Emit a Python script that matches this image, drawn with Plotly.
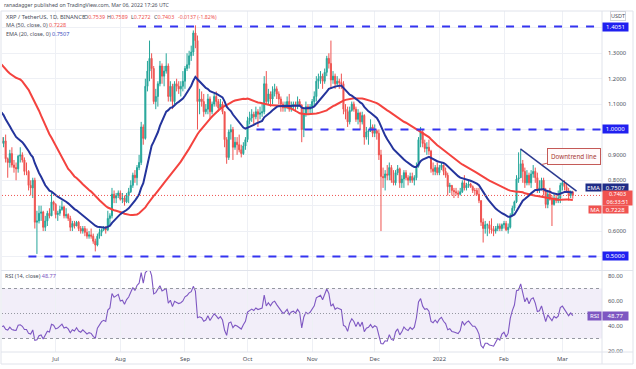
import pandas as pd
import plotly.graph_objects as go
from plotly.subplots import make_subplots

# ---------------- data (XRP/USDT daily) ----------------
# closes before the visible window (used only to seed MA50 / EMA20 / RSI14)
warmup_close = [1.62, 1.49, 1.35, 1.27, 1.31, 1.20, 1.12, 1.08, 1.06, 1.06, 1.26, 1.40, 1.37, 1.34, 1.59,
                1.58, 1.52, 1.55, 1.39, 1.66, 1.56, 1.59, 1.55, 1.52, 1.43, 1.48, 1.32, 1.43, 1.58, 1.38,
                1.47, 1.38, 1.48, 1.06, 1.21, 1.07, 0.96, 0.94, 1.05, 1.03, 1.04, 0.98, 0.90, 0.88, 0.93,
                1.03, 0.98, 1.03, 1.05, 0.97]
first_day = "2021-06-05"

close_jun = [0.945, 0.955, 0.885, 0.870, 0.905, 0.860, 0.850, 0.845, 0.895, 0.900, 0.880, 0.835, 0.835,
             0.780, 0.770, 0.800, 0.635, 0.640, 0.670, 0.675, 0.615, 0.640, 0.670, 0.660, 0.715, 0.705]
high_jun = [0.99, 0.97, 0.98, 0.89, 0.92, 0.93, 0.88, 0.87, 0.90, 0.93, 0.91, 0.89, 0.87,
            0.84, 0.80, 0.81, 0.81, 0.68, 0.70, 0.70, 0.68, 0.66, 0.68, 0.69, 0.75, 0.72]
low_jun = [0.92, 0.93, 0.87, 0.81, 0.85, 0.85, 0.83, 0.80, 0.83, 0.87, 0.87, 0.82, 0.82,
           0.76, 0.74, 0.73, 0.61, 0.51, 0.63, 0.64, 0.60, 0.60, 0.62, 0.65, 0.66, 0.68]

close_jul = [0.665, 0.670, 0.685, 0.695, 0.660, 0.665, 0.650, 0.615, 0.630, 0.620, 0.635, 0.610, 0.600,
             0.610, 0.595, 0.580, 0.585, 0.580, 0.560, 0.545, 0.580, 0.595, 0.605, 0.610, 0.605, 0.650,
             0.660, 0.745, 0.730, 0.740, 0.750]
high_jul = [0.71, 0.68, 0.70, 0.72, 0.70, 0.69, 0.67, 0.66, 0.64, 0.64, 0.64, 0.64, 0.62,
            0.62, 0.62, 0.61, 0.60, 0.61, 0.59, 0.57, 0.59, 0.61, 0.61, 0.62, 0.62, 0.68,
            0.67, 0.77, 0.76, 0.75, 0.76]
low_jul = [0.65, 0.64, 0.66, 0.68, 0.65, 0.65, 0.64, 0.60, 0.60, 0.61, 0.62, 0.60, 0.59,
           0.59, 0.58, 0.57, 0.57, 0.57, 0.55, 0.52, 0.54, 0.57, 0.58, 0.60, 0.59, 0.60,
           0.62, 0.65, 0.71, 0.71, 0.73]

close_aug = [0.725, 0.730, 0.715, 0.740, 0.755, 0.780, 0.820, 0.810, 0.850, 0.870, 1.010, 0.965, 1.170,
             1.230, 1.280, 1.240, 1.110, 1.130, 1.180, 1.250, 1.210, 1.230, 1.250, 1.130, 1.170, 1.110,
             1.180, 1.170, 1.160, 1.170, 1.190]
high_aug = [0.76, 0.75, 0.74, 0.75, 0.77, 0.80, 0.83, 0.84, 0.86, 0.90, 1.03, 1.02, 1.20,
            1.27, 1.35, 1.30, 1.25, 1.16, 1.19, 1.27, 1.26, 1.25, 1.30, 1.26, 1.19, 1.18,
            1.19, 1.20, 1.19, 1.19, 1.23]
low_aug = [0.72, 0.71, 0.70, 0.71, 0.71, 0.75, 0.77, 0.79, 0.78, 0.84, 0.86, 0.94, 0.96,
           1.15, 1.19, 1.20, 1.10, 1.08, 1.09, 1.17, 1.18, 1.17, 1.22, 1.11, 1.11, 1.08,
           1.10, 1.15, 1.14, 1.13, 1.15]

close_sep = [1.240, 1.255, 1.290, 1.305, 1.380, 1.350, 1.110, 1.120, 1.110, 1.070, 1.080, 1.120, 1.070,
             1.100, 1.130, 1.110, 1.085, 1.100, 1.070, 0.960, 0.890, 0.990, 1.000, 0.930, 0.950, 0.940,
             0.920, 0.905, 0.935, 0.960]
high_sep = [1.25, 1.30, 1.31, 1.33, 1.39, 1.41, 1.37, 1.16, 1.15, 1.14, 1.10, 1.14, 1.13,
            1.11, 1.14, 1.15, 1.12, 1.12, 1.11, 1.07, 0.97, 1.00, 1.02, 1.01, 0.97, 0.97,
            0.98, 0.94, 0.95, 0.97]
low_sep = [1.16, 1.23, 1.24, 1.27, 1.29, 1.32, 1.00, 1.06, 1.09, 1.05, 1.06, 1.06, 1.04,
           1.06, 1.09, 1.09, 1.07, 1.08, 1.06, 0.93, 0.865, 0.88, 0.96, 0.88, 0.92, 0.90,
           0.91, 0.89, 0.90, 0.92]

close_oct = [1.035, 1.045, 1.060, 1.050, 1.070, 1.060, 1.065, 1.070, 1.180, 1.110, 1.140, 1.120, 1.150,
             1.160, 1.140, 1.120, 1.100, 1.085, 1.095, 1.110, 1.080, 1.095, 1.100, 1.090, 1.110, 1.095,
             1.000, 1.060, 1.090, 1.080, 1.090]
high_oct = [1.05, 1.07, 1.08, 1.07, 1.09, 1.08, 1.09, 1.10, 1.21, 1.23, 1.16, 1.15, 1.17,
            1.18, 1.17, 1.15, 1.13, 1.11, 1.11, 1.13, 1.14, 1.11, 1.11, 1.11, 1.13, 1.12,
            1.10, 1.08, 1.11, 1.10, 1.10]
low_oct = [0.95, 1.02, 1.03, 1.02, 1.04, 1.01, 1.04, 1.05, 1.06, 1.10, 1.10, 1.09, 1.10,
           1.13, 1.12, 1.10, 1.07, 1.07, 1.07, 1.08, 1.07, 1.07, 1.08, 1.07, 1.08, 1.09,
           0.95, 0.97, 1.05, 1.06, 1.06]

close_nov = [1.110, 1.130, 1.190, 1.200, 1.210, 1.190, 1.225, 1.280, 1.260, 1.195, 1.210, 1.180, 1.190,
             1.185, 1.180, 1.080, 1.070, 1.030, 1.075, 1.100, 1.080, 1.040, 1.065, 1.030, 1.055, 0.970,
             0.990, 0.995, 1.010, 0.985]
high_nov = [1.12, 1.15, 1.21, 1.22, 1.23, 1.22, 1.24, 1.29, 1.30, 1.35, 1.23, 1.22, 1.21,
            1.20, 1.22, 1.19, 1.10, 1.09, 1.09, 1.11, 1.11, 1.09, 1.08, 1.07, 1.07, 1.06,
            1.01, 1.00, 1.04, 1.02]
low_nov = [1.06, 1.09, 1.11, 1.16, 1.18, 1.16, 1.18, 1.21, 1.24, 1.16, 1.18, 1.16, 1.17,
           1.16, 1.16, 1.06, 1.04, 1.01, 1.02, 1.07, 1.07, 1.03, 1.02, 1.00, 1.02, 0.94,
           0.96, 0.94, 0.99, 0.97]

close_dec = [0.995, 0.985, 0.900, 0.815, 0.810, 0.825, 0.820, 0.850, 0.800, 0.790, 0.830, 0.845, 0.790,
             0.805, 0.830, 0.810, 0.800, 0.815, 0.800, 0.810, 0.855, 0.960, 0.990, 0.945, 0.925, 0.930,
             0.915, 0.845, 0.835, 0.850, 0.830]
high_dec = [1.02, 1.00, 1.00, 0.92, 0.85, 0.84, 0.86, 0.87, 0.86, 0.84, 0.84, 0.86, 0.85,
            0.82, 0.84, 0.84, 0.82, 0.83, 0.83, 0.82, 0.87, 0.97, 1.01, 1.00, 0.96, 0.95,
            0.96, 0.92, 0.87, 0.86, 0.87]
low_dec = [0.97, 0.96, 0.88, 0.60, 0.77, 0.76, 0.80, 0.80, 0.79, 0.78, 0.78, 0.82, 0.77,
           0.77, 0.77, 0.80, 0.78, 0.79, 0.79, 0.78, 0.80, 0.85, 0.93, 0.93, 0.91, 0.90,
           0.90, 0.83, 0.82, 0.82, 0.82]

close_jan = [0.850, 0.860, 0.835, 0.820, 0.775, 0.780, 0.760, 0.755, 0.750, 0.745, 0.755, 0.790, 0.770,
             0.780, 0.785, 0.775, 0.760, 0.760, 0.745, 0.720, 0.635, 0.610, 0.625, 0.625, 0.610, 0.605,
             0.600, 0.610, 0.620, 0.610, 0.625]
high_jan = [0.86, 0.87, 0.86, 0.85, 0.83, 0.79, 0.78, 0.77, 0.77, 0.76, 0.77, 0.80, 0.82,
            0.79, 0.80, 0.79, 0.78, 0.77, 0.77, 0.77, 0.72, 0.65, 0.64, 0.63, 0.64, 0.65,
            0.62, 0.62, 0.63, 0.63, 0.63]
low_jan = [0.82, 0.84, 0.82, 0.81, 0.74, 0.75, 0.74, 0.73, 0.74, 0.73, 0.74, 0.75, 0.76,
           0.76, 0.77, 0.77, 0.75, 0.74, 0.74, 0.71, 0.62, 0.555, 0.59, 0.58, 0.59, 0.59,
           0.58, 0.59, 0.60, 0.60, 0.60]

close_feb = [0.630, 0.605, 0.615, 0.660, 0.690, 0.715, 0.805, 0.810, 0.865, 0.835, 0.790, 0.820, 0.790,
             0.825, 0.835, 0.810, 0.765, 0.770, 0.800, 0.755, 0.705, 0.745, 0.725, 0.705, 0.730, 0.720,
             0.730, 0.780]
high_feb = [0.64, 0.64, 0.63, 0.67, 0.70, 0.72, 0.82, 0.91, 0.92, 0.88, 0.85, 0.84, 0.83,
            0.84, 0.86, 0.85, 0.83, 0.80, 0.81, 0.81, 0.77, 0.76, 0.77, 0.74, 0.75, 0.75,
            0.76, 0.79]
low_feb = [0.61, 0.60, 0.59, 0.61, 0.66, 0.68, 0.71, 0.79, 0.81, 0.79, 0.77, 0.78, 0.78,
           0.77, 0.81, 0.79, 0.75, 0.75, 0.76, 0.74, 0.69, 0.69, 0.72, 0.62, 0.70, 0.71,
           0.71, 0.71]

close_mar = [0.790, 0.775, 0.760, 0.740, 0.7539, 0.7403]
high_mar = [0.80, 0.80, 0.79, 0.77, 0.76, 0.7589]
low_mar = [0.76, 0.76, 0.75, 0.72, 0.73, 0.7272]

# horizontal levels drawn on the chart
level_values = [1.4051, 1.0, 0.5]
level_starts = ["2021-08-09 12:00", "2021-10-05 07:00", "2021-06-17 22:00"]
level_labels = ["1.4051", "1.0000", "0.5000"]

# downtrend line and its callout
trend_x = ["2022-02-08 21:00", "2022-03-07 19:00"]
trend_y = [0.924, 0.757]
trend_note = "Downtrend line"

# legend values
ohlc_names = ["O", "H", "L", "C"]
ohlc_values = ["0.7539", "0.7589", "0.7272", "0.7403"]
change_text = "-0.0137 (-1.82%)"

month_ticks = ["2021-07-01", "2021-08-01", "2021-09-01", "2021-10-01", "2021-11-01",
               "2021-12-01", "2022-01-01", "2022-02-01", "2022-03-01"]
month_text = ["Jul", "Aug", "Sep", "Oct", "Nov", "Dec", "2022", "Feb", "Mar"]
price_ticks = [0.5, 0.6, 0.7, 0.8, 0.9, 1.0, 1.1, 1.2, 1.3, 1.4]
price_text = ["", "0.6000", "", "0.8000", "0.9000", "", "1.1000", "1.2000", "1.3000", ""]
rsi_ticks = [20, 40, 60, 80]
rsi_text = ["20.00", "40.00", "60.00", "80.00"]

# ---------------- assemble ----------------
close = (close_jun + close_jul + close_aug + close_sep + close_oct + close_nov + close_dec
         + close_jan + close_feb + close_mar)
high = (high_jun + high_jul + high_aug + high_sep + high_oct + high_nov + high_dec
        + high_jan + high_feb + high_mar)
low = (low_jun + low_jul + low_aug + low_sep + low_oct + low_nov + low_dec
       + low_jan + low_feb + low_mar)
opn = [warmup_close[-1]] + close[:-1]
high = [max(h, o, c) for h, o, c in zip(high, opn, close)]
low = [min(l, o, c) for l, o, c in zip(low, opn, close)]
dates = pd.date_range(first_day, periods=len(close), freq="D")

series = pd.Series(warmup_close + close)
nw = len(warmup_close)
ma50 = series.rolling(50).mean().iloc[nw:].values
ema20 = series.ewm(span=20, adjust=False).mean().iloc[nw:].values
delta = series.diff()
gain = delta.clip(lower=0).ewm(alpha=1 / 14, adjust=False).mean()
loss = (-delta.clip(upper=0)).ewm(alpha=1 / 14, adjust=False).mean()
rsi = (100 - 100 / (1 + gain / loss)).iloc[nw:].values

# ---------------- geometry helpers ----------------
W, H = 636, 369
ML, MR, MT, MB = 2, 34, 11, 17
PW, PH = W - ML - MR, H - MT - MB


def px(xp):
    return (xp - ML) / PW


def py(yp):
    return (H - MB - yp) / PH


X_RANGE = ["2021-06-05 06:00", "2022-03-20 00:00"]
FONT = "Noto Sans"
GRID = "#eef0f5"
BORDER = "#e0e3eb"
UP, DOWN = "#26a69a", "#ef5350"
LEVEL = "#3434f0"
MA_C, EMA_C, RSI_C = "#f4433f", "#24349c", "#7e57c2"
TXT = "#4a4e59"

fig = make_subplots(rows=2, cols=1, shared_xaxes=True, vertical_spacing=0)

fig.add_trace(go.Candlestick(
    x=dates, open=opn, high=high, low=low, close=close,
    increasing=dict(line=dict(color=UP, width=1), fillcolor=UP),
    decreasing=dict(line=dict(color=DOWN, width=1), fillcolor=DOWN),
    whiskerwidth=0, showlegend=False, hoverinfo="skip"), row=1, col=1)
fig.add_trace(go.Scatter(x=dates, y=ma50, mode="lines", line=dict(color=MA_C, width=2),
                         showlegend=False, hoverinfo="skip"), row=1, col=1)
fig.add_trace(go.Scatter(x=dates, y=ema20, mode="lines", line=dict(color=EMA_C, width=2),
                         showlegend=False, hoverinfo="skip"), row=1, col=1)
fig.add_trace(go.Scatter(x=trend_x, y=trend_y, mode="lines", line=dict(color="#2b3a8f", width=1.5),
                         showlegend=False, hoverinfo="skip"), row=1, col=1)
fig.add_trace(go.Scatter(x=dates, y=rsi, mode="lines", line=dict(color=RSI_C, width=1.1),
                         showlegend=False, hoverinfo="skip"), row=2, col=1)

shapes = []
# RSI band and guides
shapes.append(dict(type="rect", xref="x2 domain", yref="y2", x0=0, x1=1, y0=30, y1=70,
                   fillcolor="rgba(126,87,194,0.10)", line=dict(width=0), layer="below"))
for v, d in [(70, "3px,3px"), (30, "3px,3px"), (50, "1px,2px")]:
    shapes.append(dict(type="line", xref="x2 domain", yref="y2", x0=0, x1=1, y0=v, y1=v,
                       line=dict(color="#9598a1", width=1, dash=d)))
# horizontal key levels
for v, s in zip(level_values, level_starts):
    shapes.append(dict(type="line", xref="x", yref="y", x0=s, x1=X_RANGE[1], y0=v, y1=v,
                       line=dict(color=LEVEL, width=2, dash="8px,8px")))
# last price line
shapes.append(dict(type="line", xref="x domain", yref="y", x0=0, x1=1, y0=close[-1], y1=close[-1],
                   line=dict(color=DOWN, width=1, dash="1px,2px")))
# frame / separators
shapes.append(dict(type="rect", xref="paper", yref="paper", x0=px(1), x1=px(633), y0=py(364), y1=py(11),
                   line=dict(color=BORDER, width=1)))
shapes.append(dict(type="line", xref="paper", yref="paper", x0=px(602), x1=px(602), y0=py(364), y1=py(11),
                   line=dict(color=BORDER, width=1)))
shapes.append(dict(type="line", xref="paper", yref="paper", x0=px(1), x1=px(633), y0=py(352), y1=py(352),
                   line=dict(color=BORDER, width=1)))
shapes.append(dict(type="line", xref="paper", yref="paper", x0=px(1), x1=px(633), y0=py(270.5), y1=py(270.5),
                   line=dict(color=BORDER, width=1)))

ann = []


def text(xp, yp, t, size=5.5, color=TXT):
    ann.append(dict(xref="paper", yref="paper", x=px(xp), y=py(yp), text=t, showarrow=False,
                    xanchor="left", yanchor="middle", font=dict(family=FONT, size=size, color=color)))


R = "#ef5350"
text(2, 5, "ranadagger published on TradingView.com, Mar 06, 2022 17:26 UTC", size=5.2)
text(4, 17.5, "XRP / TetherUS, 1D, BINANCE", size=5.8)
for xp, nm, val in zip([82, 105, 128.5, 152], ohlc_names, ohlc_values):
    text(xp, 17.5, '%s<span style="color:%s">%s</span>' % (nm, R, val), size=5.4)
text(176, 17.5, change_text, size=5.2, color=R)
text(4, 25.5, 'MA (50, close, 0) <span style="color:%s">0.7228</span>' % R)
text(4, 33.5, 'EMA (20, close, 0) <span style="color:#3a4fc0">0.7507</span>')
text(3, 276, 'RSI (14, close) <span style="color:%s">48.77</span>' % RSI_C)

white = dict(family=FONT, size=6, color="white")
# key level labels on the price axis
for v, lab in zip(level_values, level_labels):
    ann.append(dict(xref="paper", yref="y", x=1.0, y=v, text=lab, showarrow=False, xanchor="left",
                    yanchor="middle", bgcolor="#2020f0", font=white, width=25, height=8, borderpad=0))


def axis_tag(yp, label, value, color, lw):
    ann.append(dict(xref="paper", yref="paper", x=1.0, y=py(yp), text=label, showarrow=False,
                    xanchor="right", yanchor="middle", bgcolor=color, font=white, width=lw, height=7,
                    borderpad=0))
    ann.append(dict(xref="paper", yref="paper", x=1.0, y=py(yp), text=value, showarrow=False,
                    xanchor="left", yanchor="middle", bgcolor=color, font=white, width=25, height=7,
                    borderpad=0))


# moving-average / price labels (offset so they do not collide, as on the source)
axis_tag(187.6, "EMA", "0.7507", "#1f2c86", 15)
ann.append(dict(xref="paper", yref="paper", x=1.0, y=py(198.4), text="0.7403<br>06:33:51", showarrow=False,
                xanchor="left", yanchor="middle", bgcolor="#f05350",
                font=dict(family=FONT, size=5.5, color="white"), width=29, height=14, borderpad=0))
axis_tag(209.2, "MA", "0.7228", "#f05350", 12)
# RSI value label
ann.append(dict(xref="paper", yref="y2", x=1.0, y=rsi[-1], text="RSI", showarrow=False, xanchor="right",
                yanchor="middle", bgcolor=RSI_C, font=white, width=13, height=8, borderpad=0))
ann.append(dict(xref="paper", yref="y2", x=1.0, y=rsi[-1], text="48.77", showarrow=False, xanchor="left",
                yanchor="middle", bgcolor=RSI_C, font=white, width=25, height=8, borderpad=0))
# currency tag
ann.append(dict(xref="paper", yref="paper", x=px(618), y=py(16.5), text="USDT", showarrow=False,
                xanchor="center", yanchor="middle", bgcolor="white", bordercolor="#d1d4dc", borderwidth=1,
                borderpad=0, font=dict(family=FONT, size=5.5, color=TXT)))
# callout
ann.append(dict(xref="x", yref="y", x="2022-02-19 02:00", y=0.862, text=trend_note, showarrow=True,
                arrowhead=0, arrowwidth=1, arrowcolor="#c45a57", ax=32, ay=-8, xanchor="center",
                yanchor="middle", bgcolor="#fffafa", bordercolor="#c45a57", borderwidth=1, borderpad=3,
                font=dict(family=FONT, size=6.3, color="#a83a37")))

axis_font = dict(family=FONT, size=5.8, color=TXT)
fig.update_layout(
    width=W, height=H, margin=dict(l=ML, r=MR, t=MT, b=MB, autoexpand=False),
    paper_bgcolor="white", plot_bgcolor="white", showlegend=False,
    shapes=shapes, annotations=ann,
    xaxis=dict(range=X_RANGE, rangeslider=dict(visible=False), showgrid=True, gridcolor=GRID,
               tickvals=month_ticks, showticklabels=False, zeroline=False),
    xaxis2=dict(range=X_RANGE, showgrid=True, gridcolor=GRID, tickvals=month_ticks, ticktext=month_text,
                tickfont=axis_font, ticks="", zeroline=False, ticklabelstandoff=2),
    yaxis=dict(domain=[py(270.5), 1], range=[0.4448, 1.4665], side="right", tickvals=price_ticks,
               ticktext=price_text, tickfont=axis_font, showgrid=True, gridcolor=GRID, zeroline=False,
               ticks="", ticklabelstandoff=5),
    yaxis2=dict(domain=[0, py(271)], range=[19.2, 84], side="right", tickvals=rsi_ticks, ticktext=rsi_text,
                tickfont=axis_font, showgrid=False, zeroline=False, ticks="", ticklabelstandoff=5),
)
fig.update_xaxes(rangeslider_visible=False)

fig.write_html("out.html", config={"displayModeBar": False})
# remove the browser's default page margin so the figure sits at the window origin
with open("out.html", encoding="utf-8") as f:
    page = f.read()
page = page.replace("<body>", '<body style="margin:0;padding:0;overflow:hidden">', 1)
with open("out.html", "w", encoding="utf-8") as f:
    f.write(page)
